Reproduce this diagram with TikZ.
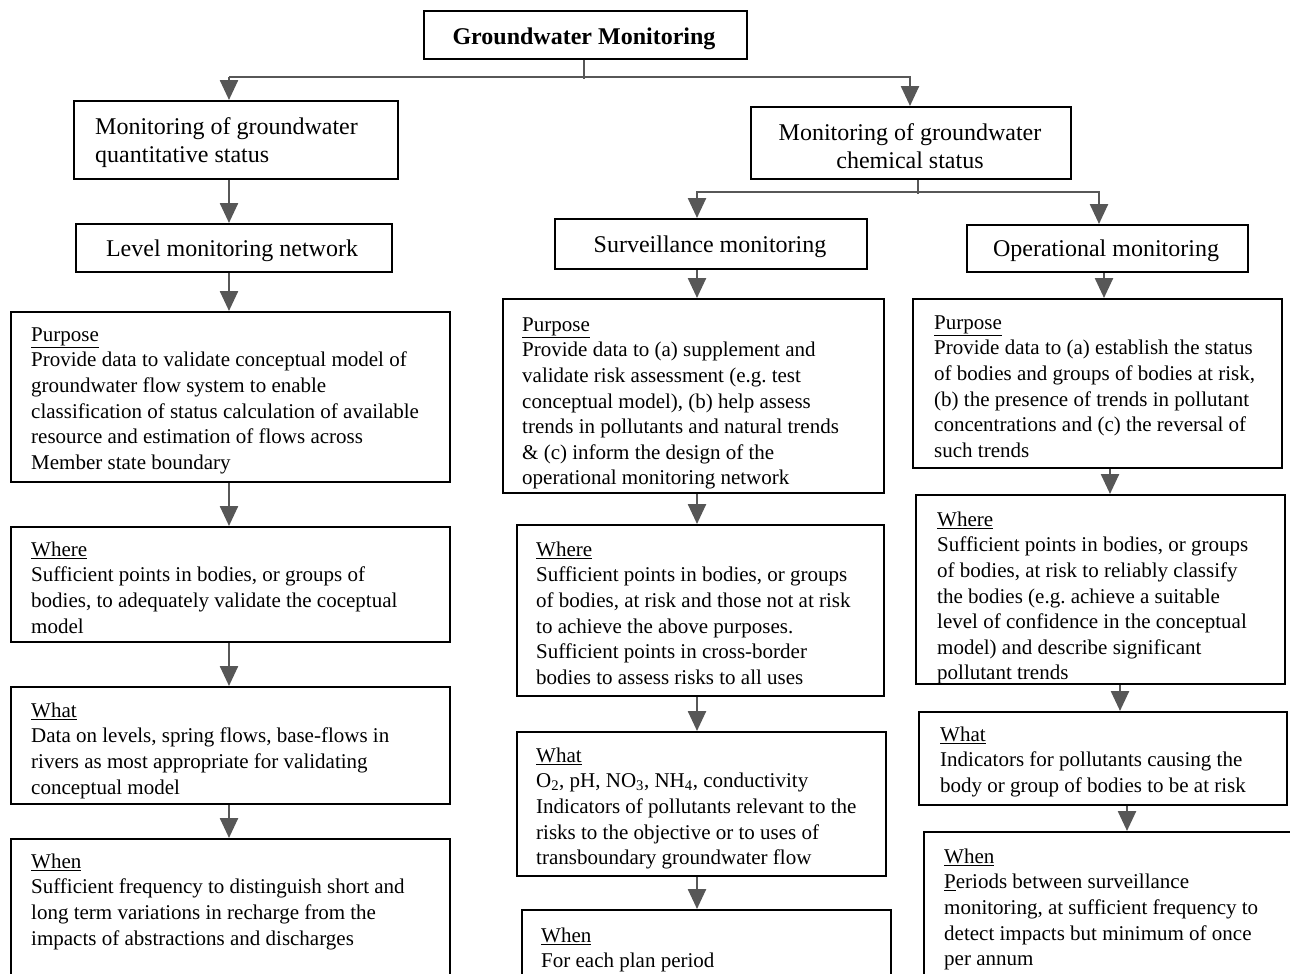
\documentclass[tikz,border=0pt]{standalone}
\usepackage{fontspec}
\setmainfont{Liberation Serif}
\usetikzlibrary{arrows.meta,calc}
\frenchspacing
\newcommand{\firstline}{\rule{0pt}{18pt}}
\newcommand{\headline}{\rule{0pt}{20pt}}
\definecolor{arrowgrey}{HTML}{575757}
\tikzset{
  box/.style={draw=black, line width=2pt, inner sep=0pt, anchor=north west},
  body/.style={inner sep=0pt, anchor=north west, align=left,
    font=\fontsize{21}{25.6}\selectfont},
  head/.style={inner sep=0pt, font=\fontsize{24}{28}\selectfont},
  arr/.style={draw=arrowgrey, line width=2.5pt,
    -{Triangle[width=18pt,length=20pt]}},
  link/.style={draw=arrowgrey, line width=2.5pt}
}
\begin{document}
\begin{tikzpicture}[x=1pt,y=-1pt]
\useasboundingbox (0,0) rectangle (1290,974);

% column guides for the vertical connectors
\coordinate (colL) at (229,0);
\coordinate (colM) at (697,0);
\coordinate (colR) at (1099,0);
\coordinate (colTop) at (584,0);
\coordinate (colChem) at (918,0);
\coordinate (colQ) at (910,0);

% ---------- top ----------
\node[box, minimum width=323pt, minimum height=48pt] (gm) at (423,10) {};
\node[head, font=\fontsize{24}{28}\selectfont\bfseries, anchor=base] (gmt) at (584,45) {Groundwater Monitoring};

% ---------- quantitative branch ----------
\node[box, minimum width=324pt, minimum height=78pt] (qs) at (73,100) {};
\node[head, anchor=north west, align=left] (qst) at (95,114) {\headline Monitoring of groundwater\\quantitative status};

\node[box, minimum width=316pt, minimum height=48pt] (lvl) at (75,223) {};
\node[head, anchor=base] (lvlt) at (232,256) {Level monitoring network};

\node[box, minimum width=439pt, minimum height=170pt] (lp) at (10,311) {};
\node[body] (lpt) at (31,323) {\firstline\underline{Purpose}\\
Provide data to validate conceptual model of\\
groundwater flow system to enable\\
classification of status calculation of available\\
resource and estimation of flows across\\
Member state boundary};

\node[box, minimum width=439pt, minimum height=115pt] (lw) at (10,526) {};
\node[body] (lwt) at (31,538) {\firstline\underline{Where}\\
Sufficient points in bodies, or groups of\\
bodies, to adequately validate the coceptual\\
model};

\node[box, minimum width=439pt, minimum height=117pt] (lh) at (10,686) {};
\node[body] (lht) at (31,699) {\firstline\underline{What}\\
Data on levels, spring flows, base-flows in\\
rivers as most appropriate for validating\\
conceptual model};

\node[box, minimum width=439pt, minimum height=170pt] (ln) at (10,838) {};
\node[body] (lnt) at (31,850) {\firstline\underline{When}\\
Sufficient frequency to distinguish short and\\
long term variations in recharge from the\\
impacts of abstractions and discharges};

% ---------- chemical branch ----------
\node[box, minimum width=320pt, minimum height=72pt] (cs) at (750,106) {};
\node[head, anchor=north, align=center] (cst) at (910,120) {\headline Monitoring of groundwater\\chemical status};

\node[box, minimum width=312pt, minimum height=50pt] (sv) at (554,218) {};
\node[head, anchor=base] (svt) at (710,252) {Surveillance monitoring};

\node[box, minimum width=281pt, minimum height=47pt] (op) at (966,224) {};
\node[head, anchor=base] (opt) at (1106,256) {Operational monitoring};

% surveillance column
\node[box, minimum width=381pt, minimum height=194pt] (sp) at (502,298) {};
\node[body] (spt) at (522,313) {\firstline\underline{Purpose}\\
Provide data to (a) supplement and\\
validate risk assessment (e.g. test\\
conceptual model), (b) help assess\\
trends in pollutants and natural trends\\
\& (c) inform the design of the\\
operational monitoring network};

\node[box, minimum width=367pt, minimum height=171pt] (sw) at (516,524) {};
\node[body] (swt) at (536,538) {\firstline\underline{Where}\\
Sufficient points in bodies, or groups\\
of bodies, at risk and those not at risk\\
to achieve the above purposes.\\
Sufficient points in cross-border\\
bodies to assess risks to all uses};

\node[box, minimum width=369pt, minimum height=144pt] (sh) at (516,731) {};
\node[body] (sht) at (536,744) {\firstline\underline{What}\\
O\textsubscript{2}, pH, NO\textsubscript{3}, NH\textsubscript{4}, conductivity\\
Indicators of pollutants relevant to the\\
risks to the objective or to uses of\\
transboundary groundwater flow};

\node[box, minimum width=369pt, minimum height=100pt] (sn) at (521,909) {};
\node[body] (snt) at (541,924) {\firstline\underline{When}\\
For each plan period};

% operational column
\node[box, minimum width=369pt, minimum height=169pt] (opp) at (912,298) {};
\node[body] (oppt) at (934,311) {\firstline\underline{Purpose}\\
Provide data to (a) establish the status\\
of bodies and groups of bodies at risk,\\
(b) the presence of trends in pollutant\\
concentrations and (c) the reversal of\\
such trends};

\node[box, minimum width=369pt, minimum height=189pt] (opw) at (915,494) {};
\node[body] (opwt) at (937,508) {\firstline\underline{Where}\\
Sufficient points in bodies, or groups\\
of bodies, at risk to reliably classify\\
the bodies (e.g. achieve a suitable\\
level of confidence in the conceptual\\
model) and describe significant\\
pollutant trends};

\node[box, minimum width=368pt, minimum height=93pt] (oph) at (918,711) {};
\node[body] (opht) at (940,723) {\firstline\underline{What}\\
Indicators for pollutants causing the\\
body or group of bodies to be at risk};

\node[box, minimum width=400pt, minimum height=180pt] (opn) at (923,831) {};
\node[body] (opnt) at (944,845) {\firstline\underline{When}\\
\underline{P}eriods between surveillance\\
monitoring, at sufficient frequency to\\
detect impacts but minimum of once\\
per annum};

% ---------- connectors ----------
% top split
\coordinate (split1) at ($(gm.south -| colTop)+(0,17)$);
\draw[link] (gm.south -| colTop) -- ($(split1)+(0,2)$);
\draw[arr] (split1 -| colL) -- (qs.north -| colL);
\draw[arr] (split1 -| colL) -- (split1 -| colQ) -- (cs.north -| colQ);

% chemical split
\coordinate (split2) at ($(cs.south -| colChem)+(0,12)$);
\draw[link] (cs.south -| colChem) -- ($(split2)+(0,2)$);
\draw[arr] (split2 -| colChem) -- (split2 -| colM) -- (sv.north -| colM);
\draw[arr] (split2 -| colChem) -- (split2 -| colR) -- (op.north -| colR);

% quantitative column
\draw[arr] (qs.south -| colL) -- (lvl.north -| colL);
\draw[arr] (lvl.south -| colL) -- (lp.north -| colL);
\draw[arr] (lp.south -| colL) -- (lw.north -| colL);
\draw[arr] (lw.south -| colL) -- (lh.north -| colL);
\draw[arr] (lh.south -| colL) -- (ln.north -| colL);

% surveillance column
\draw[arr] (sv.south -| colM) -- (sp.north -| colM);
\draw[arr] (sp.south -| colM) -- (sw.north -| colM);
\draw[arr] (sw.south -| colM) -- (sh.north -| colM);
\draw[arr] (sh.south -| colM) -- (sn.north -| colM);

% operational column
\coordinate (r1) at (1104,0);
\coordinate (r2) at (1110,0);
\coordinate (r3) at (1120,0);
\coordinate (r4) at (1127,0);
\draw[arr] (op.south -| r1) -- (opp.north -| r1);
\draw[arr] (opp.south -| r2) -- (opw.north -| r2);
\draw[arr] (opw.south -| r3) -- (oph.north -| r3);
\draw[arr] (oph.south -| r4) -- (opn.north -| r4);
\end{tikzpicture}
\end{document}
